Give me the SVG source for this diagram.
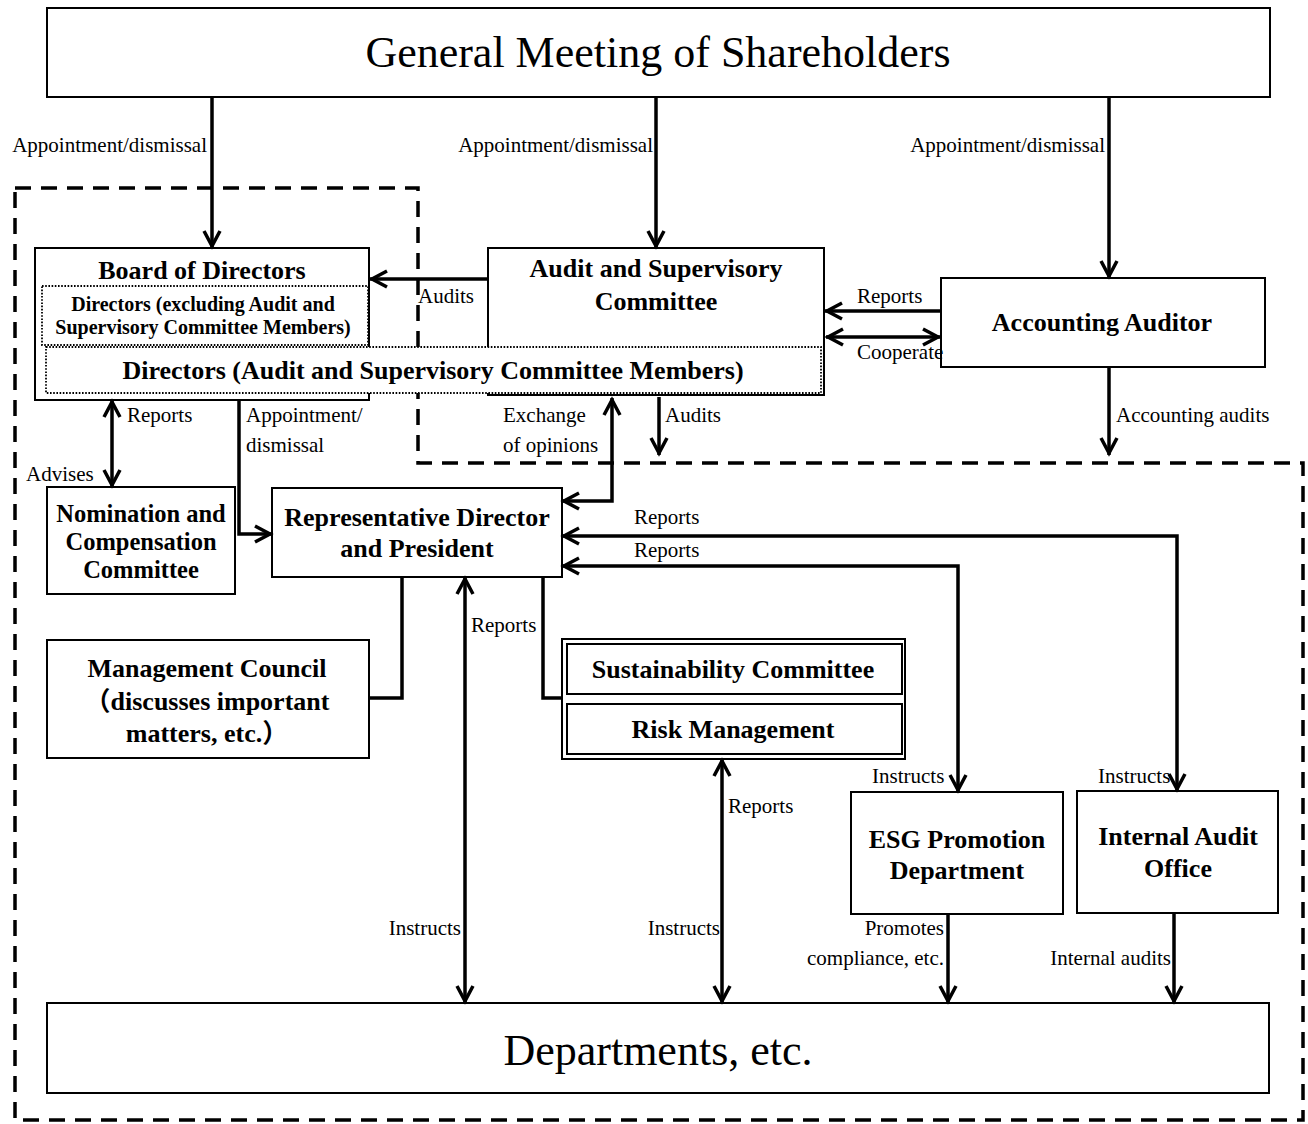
<svg xmlns="http://www.w3.org/2000/svg" width="1308" height="1124" viewBox="0 0 1308 1124">
<style>
.box{fill:#fff;stroke:#000;stroke-width:2}
.dot{fill:#fff;stroke:#000;stroke-width:1.8;stroke-dasharray:1.6 1.6}
.dash{fill:none;stroke:#000;stroke-width:3.5;stroke-dasharray:16 10}
.ln{fill:none;stroke:#000;stroke-width:3.5}
.a{marker-end:url(#arr)}
.aa{marker-start:url(#arr);marker-end:url(#arr)}
text{font-family:"Liberation Serif","Times New Roman","Noto Sans CJK JP",serif;fill:#000}
.t{font-size:26px;font-weight:bold;text-anchor:middle}
.tn{font-size:24.5px;font-weight:bold;text-anchor:middle}
.ts{font-size:20px;font-weight:bold;text-anchor:middle}
.big{font-size:44px;text-anchor:middle}
.l{font-size:21px}
.e{text-anchor:end}
</style>
<defs>
<marker id="arr" markerUnits="userSpaceOnUse" viewBox="-20 -12 24 24" markerWidth="24" markerHeight="24" refX="2" refY="0" orient="auto-start-reverse" overflow="visible">
<path d="M-15,-8 L0,0 L-15,8" fill="none" stroke="#000" stroke-width="3.5"/>
</marker>
</defs>
<rect width="1308" height="1124" fill="#fff"/>
<g id="boundary">
<path class="dash" d="M15,188 H418 V463 H1303 V1120 H15 Z"/>
</g>
<g id="general-meeting">
<rect class="box" x="47" y="8" width="1223" height="89"/>
<text class="big" x="658" y="67">General Meeting of Shareholders</text>
</g>
<g id="audit-committee">
<rect class="box" x="488" y="248" width="336" height="147"/>
<text class="t" x="656" y="277">Audit and Supervisory</text>
<text class="t" x="656" y="310">Committee</text>
</g>
<g id="board">
<rect class="box" x="35" y="248" width="334" height="152"/>
<text class="t" x="202" y="279">Board of Directors</text>
<rect class="dot" x="42" y="286" width="326" height="59"/>
<text class="ts" x="203" y="311">Directors (excluding Audit and</text>
<text class="ts" x="203" y="334">Supervisory Committee Members)</text>
</g>
<g id="directors-asc">
<rect class="dot" x="46" y="347" width="775" height="46"/>
<text class="t" x="433" y="379">Directors (Audit and Supervisory Committee Members)</text>
</g>
<g id="accounting-auditor">
<rect class="box" x="941" y="278" width="324" height="89"/>
<text class="t" x="1102" y="331">Accounting Auditor</text>
</g>
<g id="nomination">
<rect class="box" x="47" y="487" width="188" height="107"/>
<text class="tn" x="141" y="522">Nomination and</text>
<text class="tn" x="141" y="550">Compensation</text>
<text class="tn" x="141" y="578">Committee</text>
</g>
<g id="representative">
<rect class="box" x="272" y="488" width="290" height="89"/>
<text class="t" x="417" y="526">Representative Director</text>
<text class="t" x="417" y="557">and President</text>
</g>
<g id="management-council">
<rect class="box" x="47" y="640" width="322" height="118"/>
<text class="t" x="207" y="677">Management Council</text>
<text class="t" x="207" y="710">（discusses important</text>
<text class="t" x="207" y="742">matters, etc.）</text>
</g>
<g id="sustainability">
<rect class="box" x="562" y="639" width="343" height="120"/>
<rect class="box" x="567" y="644" width="335" height="50"/>
<text class="t" x="733" y="678">Sustainability Committee</text>
</g>
<g id="risk">
<rect class="box" x="567" y="704" width="335" height="50"/>
<text class="t" x="733" y="738">Risk Management</text>
</g>
<g id="esg">
<rect class="box" x="851" y="792" width="212" height="122"/>
<text class="t" x="957" y="848">ESG Promotion</text>
<text class="t" x="957" y="879">Department</text>
</g>
<g id="internal-audit">
<rect class="box" x="1077" y="791" width="201" height="122"/>
<text class="t" x="1178" y="845">Internal Audit</text>
<text class="t" x="1178" y="877">Office</text>
</g>
<g id="departments">
<rect class="box" x="47" y="1003" width="1222" height="90"/>
<text class="big" x="658" y="1065">Departments, etc.</text>
</g>
<g id="connectors">
<path class="ln a" d="M212,97 V248"/>
<path class="ln a" d="M656,97 V248"/>
<path class="ln a" d="M1109,97 V278"/>
<path class="ln a" d="M488,279 H370"/>
<path class="ln a" d="M941,311 H825"/>
<path class="ln aa" d="M826,337 H940"/>
<path class="ln a" d="M1109,367 V455"/>
<path class="ln a" d="M659,397 V455"/>
<path class="ln aa" d="M612,398 V501 H562"/>
<path class="ln aa" d="M112,400 V487"/>
<path class="ln a" d="M239,400 V534 H272"/>
<path class="ln aa" d="M562,536 H1177 V791"/>
<path class="ln aa" d="M562,566 H958 V792"/>
<path class="ln" d="M402,577 V698 H369"/>
<path class="ln" d="M543,577 V698 H562"/>
<path class="ln aa" d="M465,577 V1003"/>
<path class="ln aa" d="M722,759 V1003"/>
<path class="ln a" d="M948,914 V1003"/>
<path class="ln a" d="M1174,913 V1003"/>
<text class="l e" x="207" y="152">Appointment/dismissal</text>
<text class="l e" x="653" y="152">Appointment/dismissal</text>
<text class="l e" x="1105" y="152">Appointment/dismissal</text>
<text class="l" x="418" y="303">Audits</text>
<text class="l" x="857" y="303">Reports</text>
<text class="l" x="857" y="359">Cooperate</text>
<text class="l" x="503" y="422">Exchange</text>
<text class="l" x="503" y="452">of opinions</text>
<text class="l" x="665" y="422">Audits</text>
<text class="l" x="1116" y="422">Accounting audits</text>
<text class="l" x="127" y="422">Reports</text>
<text class="l" x="26" y="481">Advises</text>
<text class="l" x="246" y="422">Appointment/</text>
<text class="l" x="246" y="452">dismissal</text>
<text class="l" x="634" y="524">Reports</text>
<text class="l" x="634" y="557">Reports</text>
<text class="l" x="471" y="632">Reports</text>
<text class="l" x="728" y="813">Reports</text>
<text class="l" x="872" y="783">Instructs</text>
<text class="l" x="1098" y="783">Instructs</text>
<text class="l e" x="461" y="935">Instructs</text>
<text class="l e" x="720" y="935">Instructs</text>
<text class="l e" x="944" y="935">Promotes</text>
<text class="l e" x="944" y="965">compliance, etc.</text>
<text class="l e" x="1171" y="965">Internal audits</text>
</g>
</svg>
